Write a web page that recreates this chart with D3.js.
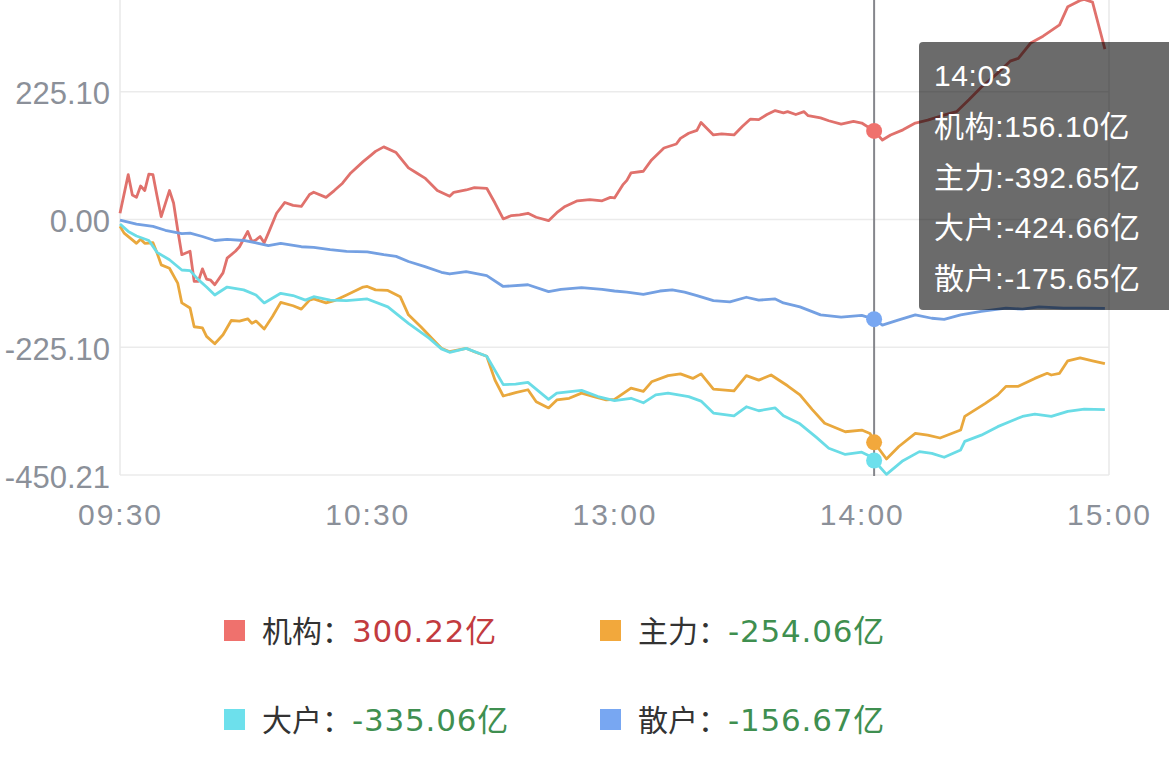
<!DOCTYPE html>
<html><head><meta charset="utf-8">
<script src="https://cdn.jsdelivr.net/npm/d3@7"></script>
<style>html,body{margin:0;padding:0;background:#fff;overflow:hidden}svg{display:block}</style>
</head><body><svg id="c" width="1169" height="764"></svg>
<script>
// ---- data ----
const seriesNames = ["机构", "主力", "大户", "散户"];
const xTickIdx = [0, 60, 120, 180, 240];
const xTickLabels = ["09:30", "10:30", "13:00", "14:00", "15:00"];
const yTicks = [-450.21, -225.10, 0, 225.10, 450.21];
const hoverIdx = 183;
const hoverLabel = "14:03";

const jigouMin = [0,2,3,4,5,6,7,8,9,10,12,13,14,15,17,18,19,20,21,22,23,25,26,28,29,31,32,33,34,35,36,38,40,42,44,46,47,50,52,54,56,59,61,62,64,67,70,72,74,77,80,81,84,86,89,91,93,95,97,99,101,104,106,108,111,114,117,119,120,122,123,124,127,129,132,135,136,138,140,141,144,146,149,151,153,155,157,159,161,162,164,166,167,170,172,175,178,180,183,185,187,190,193,196,199,203,206,209,213,216,218,221,224,228,230,233,234,236,239];
const jigouVal = [11,79,43,39,59,51,80,79,41,5,51,29,-18,-62,-56,-109,-109,-87,-105,-107,-115,-94,-68,-56,-48,-21,-39,-36,-30,-41,-24,11,30,25,23,44,48,39,51,64,82,102,114,120,128,118,91,82,73,51,41,48,52,56,55,29,1,7,8,11,4,-2,12,23,33,35,33,39,38,61,69,82,85,105,126,133,143,152,157,171,149,151,149,164,177,176,185,192,188,190,185,190,183,179,174,168,173,170,156.10,140,149,158,170,175,182,190,211,233,258,279,284,311,323,343,375,386,388,383,300.22];

const zhuliMin = [0,1,3,4,5,6,8,9,10,12,14,15,17,18,20,21,23,25,27,29,31,32,33,35,37,39,42,44,46,47,50,52,55,59,60,62,65,68,70,73,76,78,80,84,86,89,91,93,96,99,101,104,106,109,112,115,118,120,121,124,127,129,133,136,139,141,144,149,152,155,158,162,165,168,171,176,180,182,183,186,189,193,196,199,204,205,210,213,215,218,222,225,226,228,230,233,236,239];
const zhuliVal = [-12,-24,-36,-42,-35,-42,-41,-59,-80,-86,-112,-147,-156,-189,-191,-206,-219,-203,-178,-179,-175,-183,-179,-193,-171,-146,-152,-158,-142,-140,-147,-143,-133,-119,-118,-124,-125,-136,-168,-189,-212,-227,-233,-227,-233,-241,-283,-311,-305,-300,-321,-332,-318,-315,-306,-312,-318,-317,-312,-297,-303,-286,-275,-272,-280,-272,-299,-302,-275,-283,-274,-293,-309,-335,-359,-374,-371,-377,-392.65,-422,-400,-377,-380,-385,-371,-347,-324,-309,-294,-294,-280,-271,-274,-271,-249,-244,-249,-254.06];

const dahuMin = [0,2,4,7,9,12,15,17,19,21,23,26,30,33,35,39,42,45,47,51,55,60,65,70,75,78,80,84,89,93,96,99,104,106,112,116,120,124,127,130,133,138,141,144,149,152,155,159,161,165,169,172,176,180,182,183,186,190,194,197,200,204,205,209,213,216,219,222,226,230,234,239];
const dahuVal = [-8,-21,-29,-37,-58,-71,-89,-90,-106,-119,-133,-119,-124,-133,-147,-130,-134,-142,-136,-142,-143,-140,-154,-183,-209,-228,-234,-227,-241,-291,-290,-287,-317,-306,-301,-312,-319,-315,-323,-309,-306,-312,-320,-341,-346,-330,-337,-332,-346,-360,-384,-403,-414,-410,-417,-424.66,-449,-425,-409,-412,-419,-406,-391,-380,-365,-356,-347,-343,-347,-338,-334,-335.06];

const sanhuMin = [0,4,8,11,15,17,20,23,26,30,33,36,39,44,47,51,55,60,64,67,70,74,78,80,84,89,93,99,104,107,112,117,120,123,127,131,134,137,140,144,148,152,155,159,161,165,170,175,180,183,185,189,193,197,200,204,209,215,219,223,229,234,239];
const sanhuVal = [-1,-8,-12,-19,-25,-24,-30,-37,-35,-37,-41,-46,-42,-48,-49,-53,-56,-57,-62,-65,-74,-83,-93,-96,-92,-99,-118,-115,-127,-123,-120,-123,-126,-128,-132,-126,-124,-128,-134,-143,-145,-137,-142,-140,-147,-154,-168,-172,-169,-175.65,-186,-177,-168,-174,-176,-168,-162,-156,-158,-154,-156,-156,-156.67];

// ---- styles ----
const lineColors = ["#e0716c", "#e9a83d", "#6adce6", "#74a0e2"];
const markColors = ["#ef716d", "#f2a83c", "#6de0ec", "#78a7f2"];
const valueUp = "#c23b3f", valueDown = "#3f8f50";

const series = [
  {name: seriesNames[0], mins: jigouMin, vals: jigouVal},
  {name: seriesNames[1], mins: zhuliMin, vals: zhuliVal},
  {name: seriesNames[2], mins: dahuMin, vals: dahuVal},
  {name: seriesNames[3], mins: sanhuMin, vals: sanhuVal}
];

const svg = d3.select("#c");
const pL = 120, pR = 1109, pT = -36, pB = 475;
const x = d3.scaleLinear().domain([0, 240]).range([pL, pR]);
const y = d3.scaleLinear().domain([-450.21, 450.21]).range([pB, pT]);

const fontLatin = "'Liberation Sans', Arial, 'Noto Sans CJK SC', sans-serif";

// grid
const g = svg.append("g");
g.selectAll("line.h").data(yTicks).join("line")
  .attr("x1", pL).attr("x2", pR)
  .attr("y1", d => y(d)).attr("y2", d => y(d))
  .attr("stroke", "#ebebeb").attr("stroke-width", 1.5);
g.selectAll("line.v").data([0, 240]).join("line")
  .attr("x1", d => x(d)).attr("x2", d => x(d))
  .attr("y1", pT).attr("y2", pB)
  .attr("stroke", "#e8e8e8").attr("stroke-width", 1.5);

// y axis labels (the top tick sits above the visible area, as in the reference)
const visibleYTicks = yTicks.filter(v => y(v) > 20);
const yAxis = d3.axisLeft(y).tickValues(visibleYTicks).tickSize(0).tickPadding(10)
  .tickFormat(d => d.toFixed(2));
const ya = svg.append("g").attr("transform", `translate(${pL},0)`).call(yAxis);
ya.select(".domain").remove();
ya.selectAll("text").attr("font-size", 31).attr("font-family", fontLatin)
  .attr("fill", "#8b9099").attr("dy", "0.36em").attr("y", 1);

// x axis labels
const xAxis = d3.axisBottom(x).tickValues(xTickIdx).tickSize(0).tickPadding(0)
  .tickFormat((d, i) => xTickLabels[i]);
const xa = svg.append("g").attr("transform", `translate(0,${pB})`).call(xAxis);
xa.select(".domain").remove();
xa.selectAll("text").attr("font-size", 30).attr("font-family", fontLatin)
  .attr("fill", "#8b9099").attr("dy", 0).attr("y", 50).attr("letter-spacing", 2);

// lines
const line = d3.line().x(d => x(d[0])).y(d => y(d[1]));
series.forEach((s, i) => {
  const pts = s.mins.map((m, k) => [m, s.vals[k]]);
  svg.append("path").datum(pts).attr("d", line)
    .attr("fill", "none").attr("stroke", lineColors[i])
    .attr("stroke-width", 2.8).attr("stroke-linejoin", "round");
});

// crosshair
svg.append("line").attr("x1", x(hoverIdx)).attr("x2", x(hoverIdx))
  .attr("y1", 0).attr("y2", pB + 1)
  .attr("stroke", "#85868c").attr("stroke-width", 2);
const hoverVals = series.map(s => s.vals[s.mins.indexOf(hoverIdx)]);
series.forEach((s, i) => {
  svg.append("circle").attr("cx", x(hoverIdx)).attr("cy", y(hoverVals[i]))
    .attr("r", 8).attr("fill", markColors[i]);
});

// tooltip
const tip = svg.append("g").attr("transform", "translate(919,42)");
tip.append("rect").attr("width", 262).attr("height", 268).attr("rx", 4)
  .attr("fill", "rgba(0,0,0,0.58)");
const tipLines = [hoverLabel].concat(series.map((s, i) => `${s.name}:${hoverVals[i].toFixed(2)}亿`));
tip.selectAll("text").data(tipLines).join("text")
  .attr("x", 15).attr("y", (d, i) => 44 + i * 50.8)
  .attr("fill", "#fff").attr("font-size", 30).attr("font-family", fontLatin)
  .attr("letter-spacing", 0.6)
  .text(d => d);

// legend
const legendPos = [[224, 631], [600, 631], [224, 720], [600, 720]];
series.forEach((s, i) => {
  const [lx, ly] = legendPos[i];
  const lg = svg.append("g").attr("transform", `translate(${lx},${ly})`);
  lg.append("rect").attr("x", 0).attr("y", -11).attr("width", 21).attr("height", 21)
    .attr("fill", markColors[i]);
  const last = s.vals[s.vals.length - 1];
  const t = lg.append("text").attr("x", 38).attr("y", 11)
    .attr("font-size", 30).attr("font-family", fontLatin);
  t.append("tspan").attr("fill", "#333").text(s.name + "：");
  t.append("tspan").attr("fill", last >= 0 ? valueUp : valueDown)
    .attr("font-family", "'DejaVu Sans', 'Noto Sans CJK SC', sans-serif").attr("font-size", 31)
    .attr("letter-spacing", 0.8)
    .text(last.toFixed(2) + "亿");
});
</script></body></html>
